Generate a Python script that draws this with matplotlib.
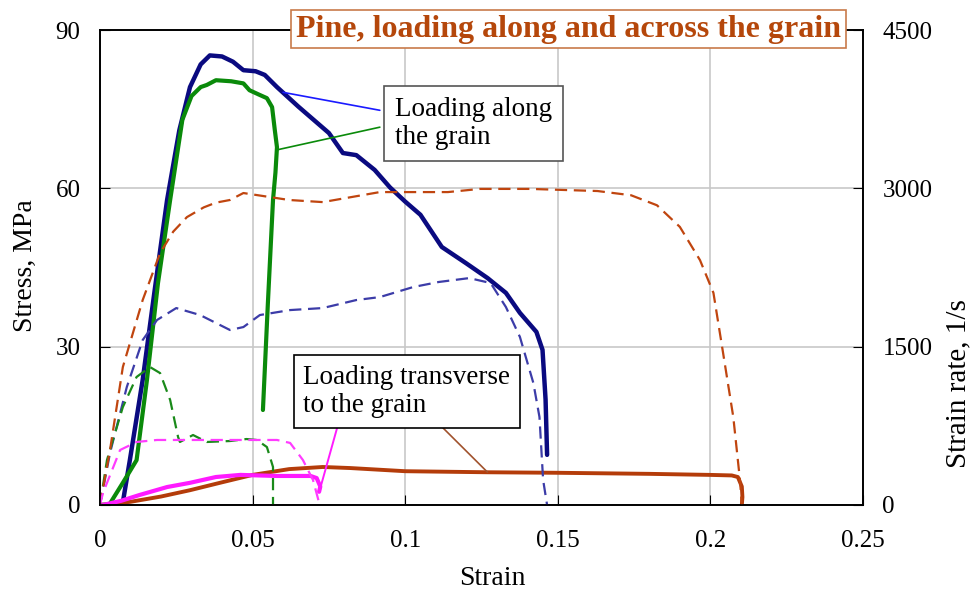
import numpy as np
import matplotlib
matplotlib.use('Agg')
import matplotlib.pyplot as plt

plt.rcParams['font.family'] = ['Liberation Serif', 'DejaVu Serif']

# stress-strain, loading along the grain (two specimens)
strain_along1 = [0.0, 0.005, 0.0075, 0.0098, 0.014, 0.018, 0.022, 0.026, 0.0295, 0.033, 0.036, 0.040,
                 0.0436, 0.047, 0.051, 0.054, 0.058, 0.065, 0.070, 0.075, 0.0796, 0.084, 0.090, 0.095,
                 0.100, 0.105, 0.112, 0.120, 0.127, 0.133, 0.1376, 0.143, 0.145, 0.146, 0.1465]
stress_along1 = [0, 0, 0.5, 8.5, 23.7, 41, 57.8, 71, 79.2, 83.5, 85.2, 85, 84, 82.4, 82.2, 81.5, 79.2,
                 75.5, 73, 70.5, 66.7, 66.3, 63.5, 60.2, 57.5, 55, 48.9, 45.8, 43, 40.2, 36.4, 32.8,
                 29.4, 20, 9.5]
strain_along2 = [0.003, 0.0075, 0.012, 0.0154, 0.019, 0.023, 0.027, 0.030, 0.033, 0.035, 0.038, 0.043,
                 0.047, 0.049, 0.052, 0.0547, 0.0564, 0.0573, 0.058, 0.0575, 0.0567, 0.055, 0.0534]
stress_along2 = [0, 4.2, 8.5, 23.7, 42, 57.8, 73, 77.5, 79.2, 79.6, 80.5, 80.3, 79.9, 78.6, 77.8, 77.1,
                 75.4, 71, 67.8, 63, 57.8, 38, 18]

# stress-strain, loading across the grain
strain_trans1 = [0, 0.01, 0.02, 0.0295, 0.04, 0.05, 0.062, 0.073, 0.082, 0.1, 0.127, 0.15, 0.18, 0.2,
                 0.207, 0.209, 0.2103, 0.2105, 0.2103]
stress_trans1 = [0, 0.6, 1.6, 2.8, 4.3, 5.7, 6.8, 7.2, 7.0, 6.4, 6.2, 6.1, 5.9, 5.7, 5.6, 5.3, 3.5, 1.5, 0]
strain_trans2 = [0.001, 0.007, 0.013, 0.022, 0.0295, 0.038, 0.046, 0.058, 0.069, 0.071, 0.0722, 0.0718]
stress_trans2 = [0, 0.8, 1.9, 3.4, 4.2, 5.3, 5.7, 5.5, 5.5, 5.1, 3.5, 2.5]

# strain rate, 1/s
rate_strain_along1 = [0.0, 0.0033, 0.0088, 0.014, 0.0187, 0.025, 0.0328, 0.0426, 0.047, 0.0524, 0.0623,
                      0.073, 0.084, 0.0917, 0.1026, 0.111, 0.121, 0.128, 0.133, 0.1376, 0.142, 0.144,
                      0.1452, 0.1465]
rate_along1 = [0, 493, 1118, 1563, 1753, 1866, 1800, 1658, 1686, 1800, 1847, 1866, 1942, 1970, 2065,
               2113, 2150, 2103, 1876, 1592, 1156, 834, 237, 0]
rate_strain_along2 = [0.0, 0.0023, 0.0075, 0.012, 0.0164, 0.0197, 0.023, 0.0256, 0.0262, 0.0305, 0.035,
                      0.0426, 0.048, 0.0514, 0.0547, 0.0567, 0.0567]
rate_along2 = [0, 426, 928, 1213, 1307, 1250, 995, 644, 597, 663, 597, 606, 625, 616, 549, 360, 0]
rate_strain_trans1 = [0.0, 0.0033, 0.0075, 0.014, 0.0197, 0.024, 0.0285, 0.034, 0.038, 0.0426, 0.047,
                      0.062, 0.073, 0.0917, 0.114, 0.1245, 0.141, 0.163, 0.174, 0.1825, 0.19, 0.1966,
                      0.201, 0.204, 0.2075, 0.2097, 0.2103]
rate_trans1 = [0, 521, 1307, 1942, 2387, 2590, 2728, 2820, 2865, 2890, 2956, 2890, 2870, 2965, 2965,
               2995, 2995, 2975, 2935, 2840, 2635, 2320, 2010, 1470, 835, 235, 0]
rate_strain_trans2 = [0.0, 0.001, 0.0066, 0.012, 0.0187, 0.03, 0.045, 0.058, 0.0623, 0.0665, 0.0698, 0.072]
rate_trans2 = [0, 114, 521, 597, 616, 616, 616, 616, 588, 426, 237, 0]

fig = plt.figure(figsize=(9.78, 5.9), dpi=100)
ax = fig.add_axes([0.1022, 0.1441, 0.7802, 0.8049])
ax2 = ax.twinx()

ax.grid(True, color='#c8c8c8', lw=1.2)
ax.set_axisbelow(True)

ax.plot(strain_along1, stress_along1, color='#0a0a80', lw=3.2, solid_capstyle='round')
ax.plot(strain_along2, stress_along2, color='#0a8a0a', lw=3.0, solid_capstyle='round')
ax.plot(strain_trans1, stress_trans1, color='#b43c0a', lw=2.8, solid_capstyle='round')
ax.plot(strain_trans2, stress_trans2, color='#ff1aff', lw=3.0, solid_capstyle='round')

dash = (0, (5.5, 3))
ax2.plot(rate_strain_along1, rate_along1, color='#3c3ca8', lw=1.6, ls=dash)
ax2.plot(rate_strain_along2, rate_along2, color='#1a8a1a', lw=1.6, ls=dash)
ax2.plot(rate_strain_trans1, rate_trans1, color='#c0450f', lw=1.6, ls=dash)
ax2.plot(rate_strain_trans2, rate_trans2, color='#ff3cff', lw=1.6, ls=dash)

ax.set_xlim(0, 0.25)
ax.set_ylim(0, 90)
ax2.set_ylim(0, 4500)
ax.set_xticks([0, 0.05, 0.1, 0.15, 0.2, 0.25])
ax.set_xticklabels(['0', '0.05', '0.1', '0.15', '0.2', '0.25'])
ax.set_yticks([0, 30, 60, 90])
ax2.set_yticks([0, 1500, 3000, 4500])

ax.tick_params(axis='both', direction='in', length=7, labelsize=18, color='black')
ax.tick_params(axis='x', pad=18)
ax.tick_params(axis='y', pad=14)
ax2.tick_params(axis='y', direction='in', length=7, labelsize=18, pad=14)
for a in (ax, ax2):
    for s in a.spines.values():
        s.set_linewidth(1.2)

ax.set_xlabel('Strain', fontsize=20)
ax.xaxis.set_label_coords(0.514, -0.128)
ax.set_ylabel('Stress, MPa', fontsize=20)
ax.yaxis.set_label_coords(-0.081, 0.503)
ax2.set_ylabel('Strain rate, 1/s', fontsize=21)
ax2.yaxis.set_label_coords(1.108, 0.255)

# annotation boxes (drawn on top axes, positioned in stress coordinates)
tr = ax.transData
ax2.annotate('', xy=(0.060, 78.2), xycoords=tr, xytext=(0.0917, 74.8), textcoords=tr,
             arrowprops=dict(arrowstyle='-', color='#1a1aff', lw=1.2, shrinkA=0, shrinkB=0))
ax2.annotate('', xy=(0.058, 67.3), xycoords=tr, xytext=(0.0917, 71.6), textcoords=tr,
             arrowprops=dict(arrowstyle='-', color='#0a8a0a', lw=1.2, shrinkA=0, shrinkB=0))
ax2.annotate('', xy=(0.072, 2.8), xycoords=tr, xytext=(0.0777, 14.6), textcoords=tr,
             arrowprops=dict(arrowstyle='-', color='#ff1aff', lw=1.4, shrinkA=0, shrinkB=0))
ax2.annotate('', xy=(0.127, 6.2), xycoords=tr, xytext=(0.1124, 14.6), textcoords=tr,
             arrowprops=dict(arrowstyle='-', color='#a0522d', lw=1.2, shrinkA=0, shrinkB=0))

ax2.text(0.1224, 72.3, 'Loading along\nthe grain', transform=tr, fontsize=19.5,
         ha='center', va='center', multialignment='left', zorder=5,
         bbox=dict(boxstyle='square,pad=0.4', fc='white', ec='#555555', lw=1.2))
ax2.text(0.1006, 21.5, 'Loading transverse\nto the grain', transform=tr, fontsize=19.5,
         ha='center', va='center', multialignment='left', zorder=5,
         bbox=dict(boxstyle='square,pad=0.35', fc='white', ec='black', lw=1.2))

ax2.text(0.614, 1.002, 'Pine, loading along and across the grain', transform=ax2.transAxes,
         fontsize=23, fontweight='bold', color='#b5470b', ha='center', va='center', zorder=6,
         bbox=dict(boxstyle='square,pad=0.15', fc='white', ec='#c87a4a', lw=1.2))

plt.savefig('out.png', dpi=100)
